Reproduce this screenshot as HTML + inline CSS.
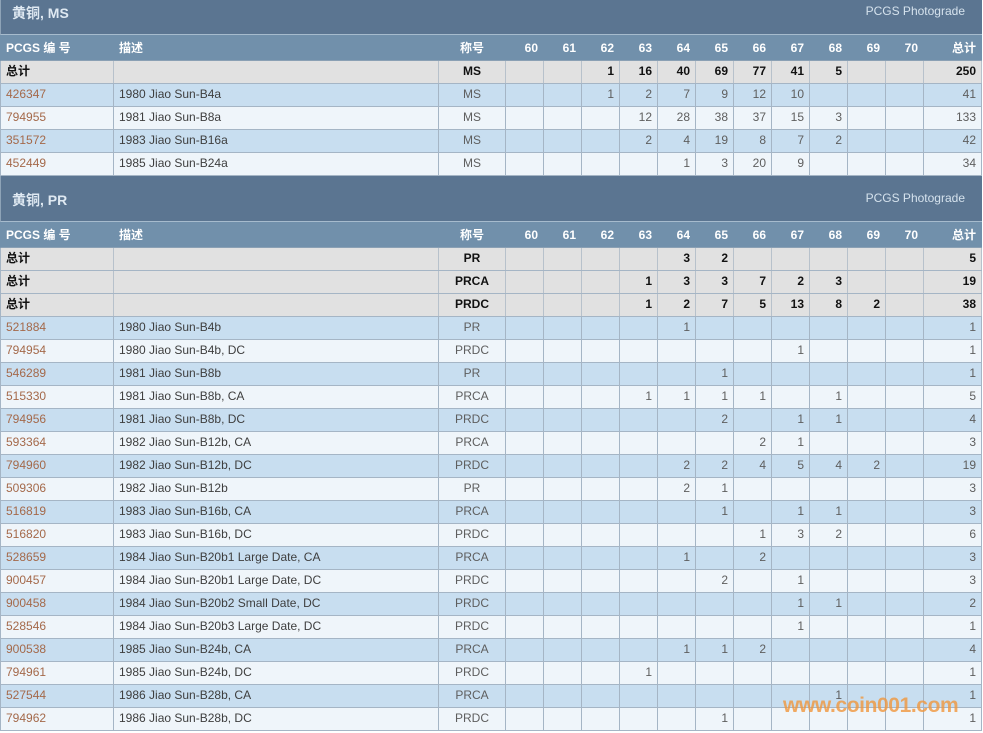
<!DOCTYPE html>
<html><head><meta charset="utf-8">
<style>
*{box-sizing:border-box}
body{margin:0;width:983px;height:733px;overflow:hidden;background:#fff;position:relative;font-family:"Liberation Sans","Noto Sans CJK SC",sans-serif}
.band{position:absolute;left:0;width:982px;height:46px;background:#5b7591;border-left:1px solid #8ea3b7;border-bottom:1px solid #a6bbcd}
.band .t{position:absolute;left:11px;top:17px;font-size:14px;line-height:14px;font-weight:bold;color:#dfe9f2;white-space:nowrap}
.band .p{position:absolute;right:17px;top:16px;font-size:12px;line-height:12px;color:#d5e2ed;white-space:nowrap}
.r{position:absolute;left:0;width:982px;height:23px;display:flex;border-left:1px solid #a5b5c5;border-bottom:1px solid #a5b5c5;font-size:12px;line-height:21px}
.r>i{font-style:normal;display:block;flex:none;border-right:1px solid #a5b5c5;padding:0 5px;text-align:right;white-space:nowrap;overflow:hidden;width:38px}
.r>i:nth-child(1){width:113px;text-align:left}
.r>i:nth-child(2){width:325px;text-align:left}
.r>i:nth-child(3){width:67px;text-align:center}
.r>i:nth-child(15){width:58px}
.h{height:26px;background:#7190ab;color:#fff;font-weight:bold;padding-top:2px;line-height:23px;border-left-color:#7190ab;border-bottom-color:#8aa0b4}
.h>i{border-right-color:transparent}
.s{background:#e1e1e1;color:#111;font-weight:bold}
.s>i{border-right-color:#b7c1cb}
.b{background:#c8def0;color:#5e5e5e}
.w{background:#eff5fa;color:#5e5e5e}
.b>i:nth-child(2),.w>i:nth-child(2){color:#3e3e3e}
.b>i:nth-child(1),.w>i:nth-child(1){color:#a4694a}
.wm{position:absolute;left:783px;top:695px;font-size:21px;line-height:21px;font-weight:bold;letter-spacing:-0.4px;color:rgba(240,150,60,0.8);white-space:nowrap}
</style></head><body>

<div class="band" style="top:-11px"><span class="t">黄铜, MS</span><span class="p">PCGS Photograde</span></div>
<div class="r h" style="top:35px"><i>PCGS 编 号</i><i>描述</i><i>称号</i><i>60</i><i>61</i><i>62</i><i>63</i><i>64</i><i>65</i><i>66</i><i>67</i><i>68</i><i>69</i><i>70</i><i>总计</i></div>
<div class="r s" style="top:61px"><i>总计</i><i></i><i>MS</i><i></i><i></i><i>1</i><i>16</i><i>40</i><i>69</i><i>77</i><i>41</i><i>5</i><i></i><i></i><i>250</i></div>
<div class="r b" style="top:84px"><i>426347</i><i>1980 Jiao Sun-B4a</i><i>MS</i><i></i><i></i><i>1</i><i>2</i><i>7</i><i>9</i><i>12</i><i>10</i><i></i><i></i><i></i><i>41</i></div>
<div class="r w" style="top:107px"><i>794955</i><i>1981 Jiao Sun-B8a</i><i>MS</i><i></i><i></i><i></i><i>12</i><i>28</i><i>38</i><i>37</i><i>15</i><i>3</i><i></i><i></i><i>133</i></div>
<div class="r b" style="top:130px"><i>351572</i><i>1983 Jiao Sun-B16a</i><i>MS</i><i></i><i></i><i></i><i>2</i><i>4</i><i>19</i><i>8</i><i>7</i><i>2</i><i></i><i></i><i>42</i></div>
<div class="r w" style="top:153px"><i>452449</i><i>1985 Jiao Sun-B24a</i><i>MS</i><i></i><i></i><i></i><i></i><i>1</i><i>3</i><i>20</i><i>9</i><i></i><i></i><i></i><i>34</i></div>

<div class="band" style="top:176px"><span class="t">黄铜, PR</span><span class="p">PCGS Photograde</span></div>
<div class="r h" style="top:222px"><i>PCGS 编 号</i><i>描述</i><i>称号</i><i>60</i><i>61</i><i>62</i><i>63</i><i>64</i><i>65</i><i>66</i><i>67</i><i>68</i><i>69</i><i>70</i><i>总计</i></div>
<div class="r s" style="top:248px"><i>总计</i><i></i><i>PR</i><i></i><i></i><i></i><i></i><i>3</i><i>2</i><i></i><i></i><i></i><i></i><i></i><i>5</i></div>
<div class="r s" style="top:271px"><i>总计</i><i></i><i>PRCA</i><i></i><i></i><i></i><i>1</i><i>3</i><i>3</i><i>7</i><i>2</i><i>3</i><i></i><i></i><i>19</i></div>
<div class="r s" style="top:294px"><i>总计</i><i></i><i>PRDC</i><i></i><i></i><i></i><i>1</i><i>2</i><i>7</i><i>5</i><i>13</i><i>8</i><i>2</i><i></i><i>38</i></div>
<div class="r b" style="top:317px"><i>521884</i><i>1980 Jiao Sun-B4b</i><i>PR</i><i></i><i></i><i></i><i></i><i>1</i><i></i><i></i><i></i><i></i><i></i><i></i><i>1</i></div>
<div class="r w" style="top:340px"><i>794954</i><i>1980 Jiao Sun-B4b, DC</i><i>PRDC</i><i></i><i></i><i></i><i></i><i></i><i></i><i></i><i>1</i><i></i><i></i><i></i><i>1</i></div>
<div class="r b" style="top:363px"><i>546289</i><i>1981 Jiao Sun-B8b</i><i>PR</i><i></i><i></i><i></i><i></i><i></i><i>1</i><i></i><i></i><i></i><i></i><i></i><i>1</i></div>
<div class="r w" style="top:386px"><i>515330</i><i>1981 Jiao Sun-B8b, CA</i><i>PRCA</i><i></i><i></i><i></i><i>1</i><i>1</i><i>1</i><i>1</i><i></i><i>1</i><i></i><i></i><i>5</i></div>
<div class="r b" style="top:409px"><i>794956</i><i>1981 Jiao Sun-B8b, DC</i><i>PRDC</i><i></i><i></i><i></i><i></i><i></i><i>2</i><i></i><i>1</i><i>1</i><i></i><i></i><i>4</i></div>
<div class="r w" style="top:432px"><i>593364</i><i>1982 Jiao Sun-B12b, CA</i><i>PRCA</i><i></i><i></i><i></i><i></i><i></i><i></i><i>2</i><i>1</i><i></i><i></i><i></i><i>3</i></div>
<div class="r b" style="top:455px"><i>794960</i><i>1982 Jiao Sun-B12b, DC</i><i>PRDC</i><i></i><i></i><i></i><i></i><i>2</i><i>2</i><i>4</i><i>5</i><i>4</i><i>2</i><i></i><i>19</i></div>
<div class="r w" style="top:478px"><i>509306</i><i>1982 Jiao Sun-B12b</i><i>PR</i><i></i><i></i><i></i><i></i><i>2</i><i>1</i><i></i><i></i><i></i><i></i><i></i><i>3</i></div>
<div class="r b" style="top:501px"><i>516819</i><i>1983 Jiao Sun-B16b, CA</i><i>PRCA</i><i></i><i></i><i></i><i></i><i></i><i>1</i><i></i><i>1</i><i>1</i><i></i><i></i><i>3</i></div>
<div class="r w" style="top:524px"><i>516820</i><i>1983 Jiao Sun-B16b, DC</i><i>PRDC</i><i></i><i></i><i></i><i></i><i></i><i></i><i>1</i><i>3</i><i>2</i><i></i><i></i><i>6</i></div>
<div class="r b" style="top:547px"><i>528659</i><i>1984 Jiao Sun-B20b1 Large Date, CA</i><i>PRCA</i><i></i><i></i><i></i><i></i><i>1</i><i></i><i>2</i><i></i><i></i><i></i><i></i><i>3</i></div>
<div class="r w" style="top:570px"><i>900457</i><i>1984 Jiao Sun-B20b1 Large Date, DC</i><i>PRDC</i><i></i><i></i><i></i><i></i><i></i><i>2</i><i></i><i>1</i><i></i><i></i><i></i><i>3</i></div>
<div class="r b" style="top:593px"><i>900458</i><i>1984 Jiao Sun-B20b2 Small Date, DC</i><i>PRDC</i><i></i><i></i><i></i><i></i><i></i><i></i><i></i><i>1</i><i>1</i><i></i><i></i><i>2</i></div>
<div class="r w" style="top:616px"><i>528546</i><i>1984 Jiao Sun-B20b3 Large Date, DC</i><i>PRDC</i><i></i><i></i><i></i><i></i><i></i><i></i><i></i><i>1</i><i></i><i></i><i></i><i>1</i></div>
<div class="r b" style="top:639px"><i>900538</i><i>1985 Jiao Sun-B24b, CA</i><i>PRCA</i><i></i><i></i><i></i><i></i><i>1</i><i>1</i><i>2</i><i></i><i></i><i></i><i></i><i>4</i></div>
<div class="r w" style="top:662px"><i>794961</i><i>1985 Jiao Sun-B24b, DC</i><i>PRDC</i><i></i><i></i><i></i><i>1</i><i></i><i></i><i></i><i></i><i></i><i></i><i></i><i>1</i></div>
<div class="r b" style="top:685px"><i>527544</i><i>1986 Jiao Sun-B28b, CA</i><i>PRCA</i><i></i><i></i><i></i><i></i><i></i><i></i><i></i><i></i><i>1</i><i></i><i></i><i>1</i></div>
<div class="r w" style="top:708px"><i>794962</i><i>1986 Jiao Sun-B28b, DC</i><i>PRDC</i><i></i><i></i><i></i><i></i><i></i><i>1</i><i></i><i></i><i></i><i></i><i></i><i>1</i></div>

<div class="wm">www.coin001.com</div>
</body></html>
